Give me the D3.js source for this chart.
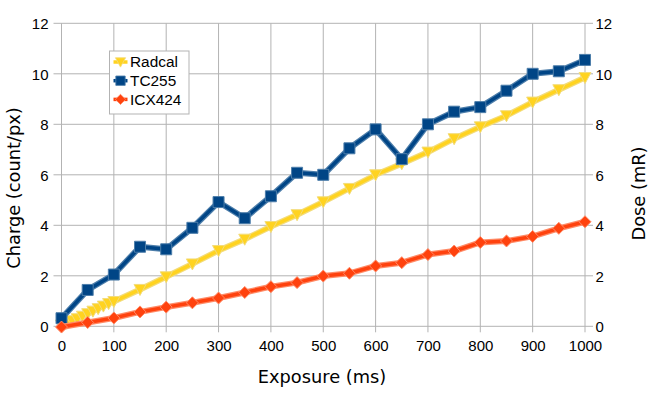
<!DOCTYPE html>
<html>
<head>
<meta charset="utf-8">
<script src="https://cdn.jsdelivr.net/npm/d3@7"></script>
<style>
  body { margin: 0; background: #fff; }
  svg { font-family: "Liberation Sans", Arial, sans-serif; }
</style>
</head>
<body>
<svg id="chart" width="655" height="398"></svg>
<script>
// ====
// DATA
// ====
const xTicks = [0, 100, 200, 300, 400, 500, 600, 700, 800, 900, 1000];
const yTicks = [0, 2, 4, 6, 8, 10, 12];

const radcalX = [0, 10, 20, 30, 40, 50, 60, 70, 80, 90, 100, 150, 200, 250, 300, 350, 400, 450, 500,
  550, 600, 650, 700, 750, 800, 850, 900, 950, 1000];
const radcalY = [0.05, 0.12, 0.22, 0.3, 0.4, 0.5, 0.6, 0.7, 0.8, 0.9, 0.98, 1.46, 1.96, 2.47, 3.0, 3.45, 3.95, 4.42, 4.93,
  5.46, 6.0, 6.44, 6.9, 7.43, 7.9, 8.34, 8.88, 9.37, 9.85];

const tcX = [0, 50, 100, 150, 200, 250, 300, 350, 400, 450, 500, 550, 600, 650, 700, 750, 800, 850, 900, 950, 1000];
const tcY = [0.32, 1.44, 2.05, 3.15, 3.05, 3.9, 4.92, 4.28, 5.15, 6.08, 6.0, 7.05, 7.8, 6.62, 8.0, 8.5, 8.68, 9.33, 10.0, 10.1, 10.55];

const icxX = [0, 50, 100, 150, 200, 250, 300, 350, 400, 450, 500, 550, 600, 650, 700, 750, 800, 850, 900, 950, 1000];
const icxY = [-0.03, 0.15, 0.33, 0.57, 0.76, 0.93, 1.12, 1.34, 1.57, 1.73, 1.99, 2.1, 2.39, 2.52, 2.84, 2.98, 3.32, 3.38, 3.56, 3.88, 4.14];

const seriesNames = ["Radcal", "TC255", "ICX424"];

// ======
// LAYOUT
// ======
const svg = d3.select("#chart");
const plotLeft = 61.5, plotRight = 585, plotTop = 23.3, plotBottom = 326.3;

const x = d3.scaleLinear().domain([0, 1000]).range([plotLeft, plotRight]);
const y = d3.scaleLinear().domain([0, 12]).range([plotBottom, plotTop]);

const series = [
  { name: seriesNames[0], xs: radcalX, ys: radcalY, color: "#ffd320", edge: "#f3dc7a", symbol: "tri" },
  { name: seriesNames[1], xs: tcX, ys: tcY, color: "#004586", edge: "#4d7eaa", symbol: "square" },
  { name: seriesNames[2], xs: icxX, ys: icxY, color: "#ff420e", edge: "#ff8a66", symbol: "diamond" },
];

// grid (with the outside tick stubs)
const grid = svg.append("g");
grid.selectAll(".vg").data(xTicks).enter().append("line")
  .attr("x1", d => x(d)).attr("x2", d => x(d))
  .attr("y1", plotTop).attr("y2", plotBottom + 6)
  .attr("stroke", "#b3b3b3").attr("stroke-width", 1);
grid.selectAll(".hg").data(yTicks).enter().append("line")
  .attr("x1", plotLeft - 8).attr("x2", plotRight + 8)
  .attr("y1", d => y(d)).attr("y2", d => y(d))
  .attr("stroke", "#b3b3b3").attr("stroke-width", 1);

// axes (labels only, lines come from grid)
const axisLeft = svg.append("g").attr("transform", `translate(${plotLeft},0.8)`)
  .call(d3.axisLeft(y).tickValues(yTicks).tickSize(0).tickPadding(13));
const axisRight = svg.append("g").attr("transform", `translate(${plotRight},0.8)`)
  .call(d3.axisRight(y).tickValues(yTicks).tickSize(0).tickPadding(10.5));
const axisBottom = svg.append("g").attr("transform", `translate(0,${plotBottom})`)
  .call(d3.axisBottom(x).tickValues(xTicks).tickFormat(d3.format("d")).tickSize(0).tickPadding(14.5));
[axisLeft, axisRight, axisBottom].forEach(a => {
  a.select(".domain").remove();
  a.selectAll("text").attr("font-size", 15).attr("fill", "#000")
    .attr("font-family", "Liberation Sans, Arial, sans-serif");
});

// axis titles
const titleFont = "DejaVu Sans, Verdana, sans-serif";
svg.append("text").attr("x", 322).attr("y", 382.7)
  .attr("text-anchor", "middle").attr("font-size", 17.8).attr("font-family", titleFont)
  .text("Exposure (ms)");
svg.append("text").attr("transform", "translate(19.5,188) rotate(-90)")
  .attr("text-anchor", "middle").attr("font-size", 17.8).attr("font-family", titleFont)
  .text("Charge (count/px)");
svg.append("text").attr("transform", "translate(645,193.5) rotate(-90)")
  .attr("text-anchor", "middle").attr("font-size", 17.8).attr("font-family", titleFont)
  .text("Dose (mR)");

// markers
function symbolPath(kind) {
  if (kind === "tri") return "M-6,-5L6,-5L0,6Z";
  if (kind === "square") return "M-5.5,-5.5L5.5,-5.5L5.5,5.5L-5.5,5.5Z";
  return "M0,-6L6,0L0,6L-6,0Z";
}

const line = d3.line().x(d => x(d[0])).y(d => y(d[1]));

series.forEach(s => {
  const pts = s.xs.map((v, i) => [v, s.ys[i]]);
  const g = svg.append("g");
  g.append("path").datum(pts).attr("d", line)
    .attr("fill", "none").attr("stroke", s.edge).attr("stroke-width", 6)
    .attr("stroke-linejoin", "round");
  g.append("path").datum(pts).attr("d", line)
    .attr("fill", "none").attr("stroke", s.color).attr("stroke-width", 3.5)
    .attr("stroke-linejoin", "round");
  g.selectAll(".m").data(pts).enter().append("path")
    .attr("transform", d => `translate(${x(d[0])},${y(d[1])})`)
    .attr("d", symbolPath(s.symbol))
    .attr("fill", s.color).attr("stroke", s.edge).attr("stroke-width", 1);
});

// legend
const legend = svg.append("g").attr("transform", "translate(109.5,51)");
legend.append("rect").attr("width", 79.5).attr("height", 63)
  .attr("fill", "#fff").attr("stroke", "#b3b3b3");
series.forEach((s, i) => {
  const ly = 11 + i * 18.7;
  legend.append("line").attr("x1", 4).attr("x2", 18).attr("y1", ly).attr("y2", ly)
    .attr("stroke", s.color).attr("stroke-width", 3.5);
  legend.append("path").attr("transform", `translate(11,${ly}) scale(0.85)`)
    .attr("d", symbolPath(s.symbol)).attr("fill", s.color).attr("stroke", s.edge);
  legend.append("text").attr("x", 20.5).attr("y", ly + 5.3).attr("font-size", 15.4).text(s.name);
});
</script>
</body>
</html>
